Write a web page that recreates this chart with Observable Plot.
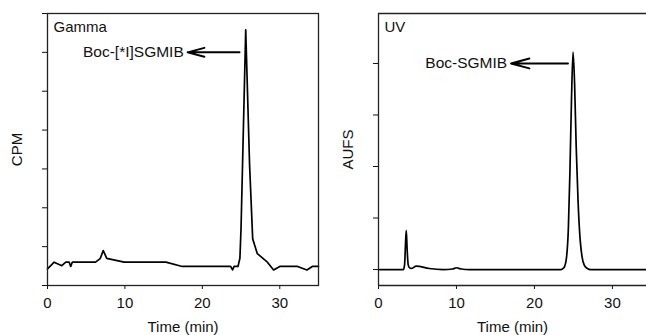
<!DOCTYPE html>
<html><head><meta charset="utf-8">
<script src="https://cdn.jsdelivr.net/npm/d3@7"></script>
<script src="https://cdn.jsdelivr.net/npm/@observablehq/plot@0.6"></script>
<style>
body{margin:0;background:#fff;}
#wrap{display:flex;width:646px;height:335px;overflow:hidden;}
</style></head>
<body><div id="wrap"></div>
<script>
// Gamma trace (time in min, CPM arbitrary units)
const gammaTime = [0,0.86,1.85,2.36,2.8,3.0,3.2,6.2,6.8,7.2,7.65,9.9,15.3,17.4,23.65,23.9,24.1,24.6,24.85,25.0,25.6,26.1,26.5,27.1,28.4,29.2,30.0,32.3,33.5,34.2,35];
const gammaValue = [0.43,0.6,0.51,0.6,0.6,0.49,0.6,0.6,0.69,0.9,0.7,0.6,0.6,0.49,0.49,0.4,0.49,0.49,0.7,1.5,6.58,3.1,1.2,0.82,0.6,0.4,0.49,0.49,0.4,0.49,0.49];
// UV trace (time in min, AUFS arbitrary units)
const uvTime = [0,3.2,3.35,3.45,3.56,3.67,3.8,3.95,4.2,4.84,6.5,8.3,9.5,10.0,10.6,11.7,23.4,23.8,24.1,24.35,24.55,24.75,24.95,25.15,25.35,25.6,25.85,26.1,26.4,26.8,27.2,34.4];
const uvValue = [0,0,0.1,0.45,0.76,0.4,0.1,0.04,0.02,0.065,0.02,0,0.01,0.035,0.01,0,0,0.04,0.22,0.8,1.9,3.3,4.22,3.6,2.4,1.3,0.6,0.25,0.08,0.02,0,0];
const xTicks = [0,10,20,30];
const gammaYTicks = [0,1,2,3,4,5,6,7];
const uvYTicks = [0,1,2,3,4];
// annotations: label, text position, arrow start / end
const gammaNote = [{label:"Boc-[*I]SGMIB", tx:17.6, y:6.0, x1:24.8, x2:18.1}];
const uvNote = [{label:"Boc-SGMIB", tx:16.5, y:4.0, x1:24.3, x2:17.0}];

const gamma = gammaTime.map((t,i)=>({t, v:gammaValue[i]}));
const uv = uvTime.map((t,i)=>({t, v:uvValue[i]}));
const font = "'Liberation Sans', Arial, Helvetica, sans-serif";

function panel({data, width, marginLeft, marginRight, xmax, ydom, yticks, ylabel, tag, note, curve, fullFrame}){
  const marks = [
    Plot.axisX({ticks:xTicks, tickSize:4, tickPadding:8, label:"Time (min)", labelAnchor:"center", labelOffset:46, labelArrow:"none", fontSize:15}),
    Plot.axisY({ticks:yticks, tickSize:5, tickFormat:()=>"", label:ylabel, labelAnchor:"center", labelOffset:36, labelArrow:"none", fontSize:15}),
    Plot.line(data, {x:"t", y:"v", stroke:"#000", strokeWidth:1.7, curve}),
    Plot.text([tag], {text:d=>d, frameAnchor:"top-left", dx:6, dy:8, lineAnchor:"top", textAnchor:"start", fontSize:15, fill:"#111"}),
    Plot.text(note, {x:"tx", y:"y", text:"label", textAnchor:"end", fontSize:15.5, fill:"#111"}),
    Plot.arrow(note, {x1:"x1", y1:"y", x2:"x2", y2:"y", stroke:"#000", strokeWidth:2, headLength:20, headAngle:30})
  ];
  if (fullFrame) marks.push(Plot.frame({stroke:"#222", strokeWidth:1.3}));
  else {
    marks.push(Plot.ruleX([0], {stroke:"#222", strokeWidth:1.3}));
    marks.push(Plot.ruleY([ydom[0]], {stroke:"#222", strokeWidth:1.3}));
    marks.push(Plot.ruleY([ydom[1]], {stroke:"#222", strokeWidth:1.3}));
  }
  return Plot.plot({
    width, height:335, marginTop:13, marginBottom:50, marginLeft, marginRight,
    style:{fontFamily:font, fontSize:"15px", color:"#111", background:"#fff"},
    x:{domain:[0,xmax]},
    y:{domain:ydom},
    marks
  });
}

const wrap = document.getElementById("wrap");
wrap.append(panel({data:gamma, width:330, marginLeft:47, marginRight:12, xmax:35, ydom:[0,7], yticks:gammaYTicks, ylabel:"CPM", tag:"Gamma", note:gammaNote, curve:"linear", fullFrame:true}));
wrap.append(panel({data:uv, width:316, marginLeft:48, marginRight:0, xmax:34.37, ydom:[-0.31,4.97], yticks:uvYTicks, ylabel:"AUFS", tag:"UV", note:uvNote, curve:"monotone-x", fullFrame:false}));
</script></body></html>
